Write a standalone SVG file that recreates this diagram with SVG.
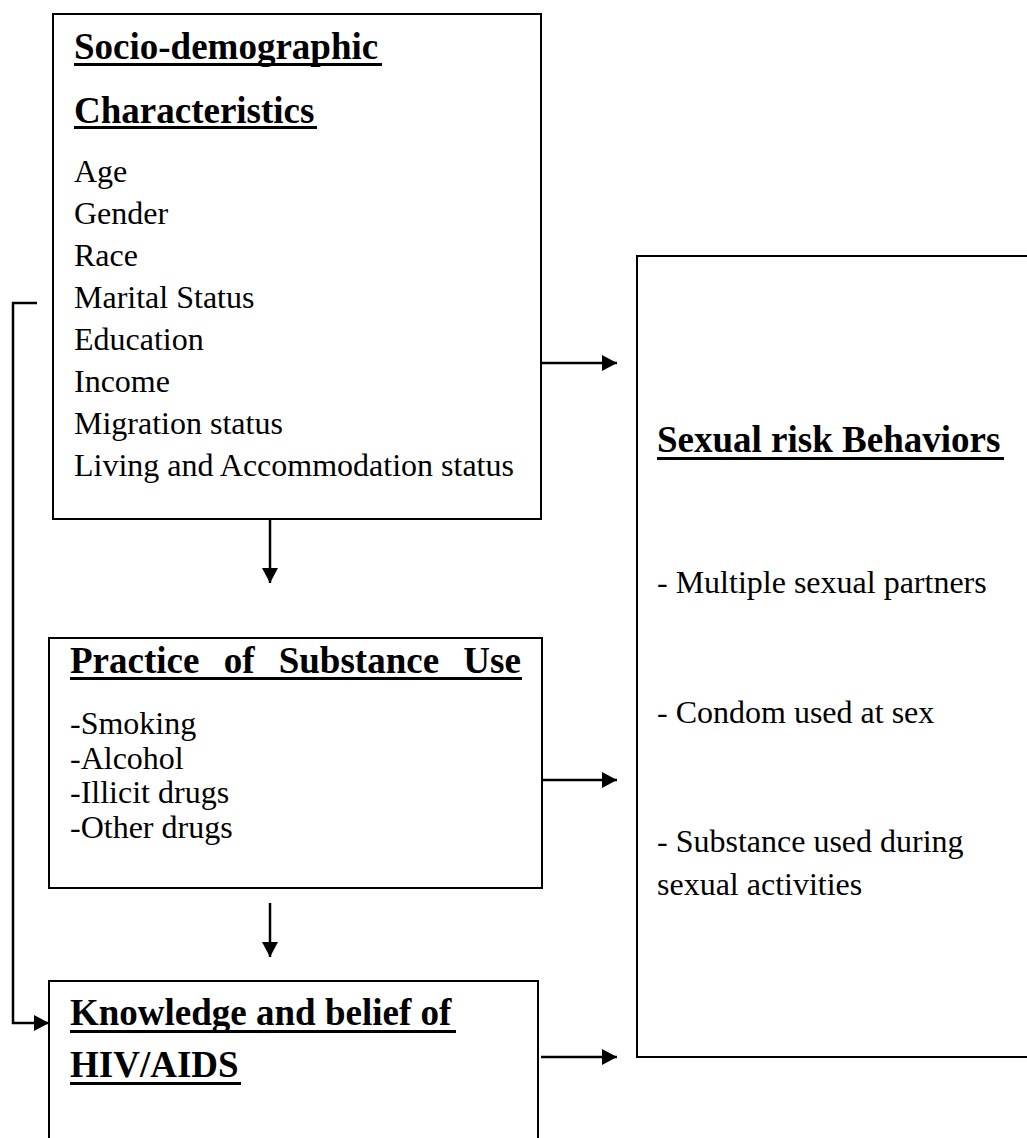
<svg xmlns="http://www.w3.org/2000/svg" width="1027" height="1138" viewBox="0 0 1027 1138">
  <style>
    .box { fill: #ffffff; stroke: #000000; stroke-width: 2; }
    .title { font-family: "Liberation Serif", "Times New Roman", serif; font-weight: bold; font-size: 37px; fill: #000000; }
    .body { font-family: "Liberation Serif", "Times New Roman", serif; font-size: 32px; fill: #000000; }
    .ul { fill: #000000; }
    .conn { fill: none; stroke: #000000; stroke-width: 2.5; }
  </style>
  <defs>
    <marker id="arrow" markerUnits="userSpaceOnUse" markerWidth="17" markerHeight="17" refX="15" refY="8" orient="auto">
      <path d="M0,0 L15,8 L0,16 Z" fill="#000000"/>
    </marker>
  </defs>
  <rect x="0" y="0" width="1027" height="1138" fill="#ffffff"/>

  <g id="socio-demographic">
    <rect class="box" x="53" y="14" width="488" height="505"/>
    <text class="title" x="74" y="59">Socio-demographic</text>
    <rect class="ul" x="74" y="63" width="308" height="3"/>
    <text class="title" x="74" y="123">Characteristics</text>
    <rect class="ul" x="74" y="126" width="243" height="3"/>
    <text class="body" x="74" y="182">Age</text>
    <text class="body" x="74" y="224">Gender</text>
    <text class="body" x="74" y="266">Race</text>
    <text class="body" x="74" y="308">Marital Status</text>
    <text class="body" x="74" y="350">Education</text>
    <text class="body" x="74" y="392">Income</text>
    <text class="body" x="74" y="434">Migration status</text>
    <text class="body" x="74" y="476">Living and Accommodation status</text>
  </g>

  <g id="substance-use">
    <rect class="box" x="49" y="638" width="493" height="250"/>
    <text class="title" x="70" y="673" word-spacing="15">Practice of Substance Use</text>
    <rect class="ul" x="70" y="677" width="452" height="3"/>
    <text class="body" x="70" y="734">-Smoking</text>
    <text class="body" x="70" y="768.5">-Alcohol</text>
    <text class="body" x="70" y="803">-Illicit drugs</text>
    <text class="body" x="70" y="837.5">-Other drugs</text>
  </g>

  <g id="knowledge-belief">
    <rect class="box" x="49" y="981" width="489" height="170"/>
    <text class="title" x="70" y="1025">Knowledge and belief of</text>
    <rect class="ul" x="70" y="1030" width="386" height="3"/>
    <text class="title" x="70" y="1077">HIV/AIDS</text>
    <rect class="ul" x="70" y="1082" width="171" height="3"/>
  </g>

  <g id="sexual-risk">
    <rect class="box" x="637" y="256" width="400" height="801"/>
    <text class="title" x="657" y="452">Sexual risk Behaviors</text>
    <rect class="ul" x="657" y="457" width="347" height="3"/>
    <text class="body" x="657" y="593">- Multiple sexual partners</text>
    <text class="body" x="657" y="723">- Condom used at sex</text>
    <text class="body" x="657" y="852">- Substance used during</text>
    <text class="body" x="657" y="895">sexual activities</text>
  </g>

  <g id="connectors">
    <line class="conn" x1="541" y1="363" x2="617" y2="363" marker-end="url(#arrow)"/>
    <line class="conn" x1="270" y1="519" x2="270" y2="583" marker-end="url(#arrow)"/>
    <line class="conn" x1="542" y1="780" x2="617" y2="780" marker-end="url(#arrow)"/>
    <line class="conn" x1="270" y1="903" x2="270" y2="957" marker-end="url(#arrow)"/>
    <line class="conn" x1="541" y1="1057" x2="617" y2="1057" marker-end="url(#arrow)"/>
    <polyline class="conn" points="37,303 13,303 13,1023 49,1023" marker-end="url(#arrow)"/>
  </g>
</svg>
